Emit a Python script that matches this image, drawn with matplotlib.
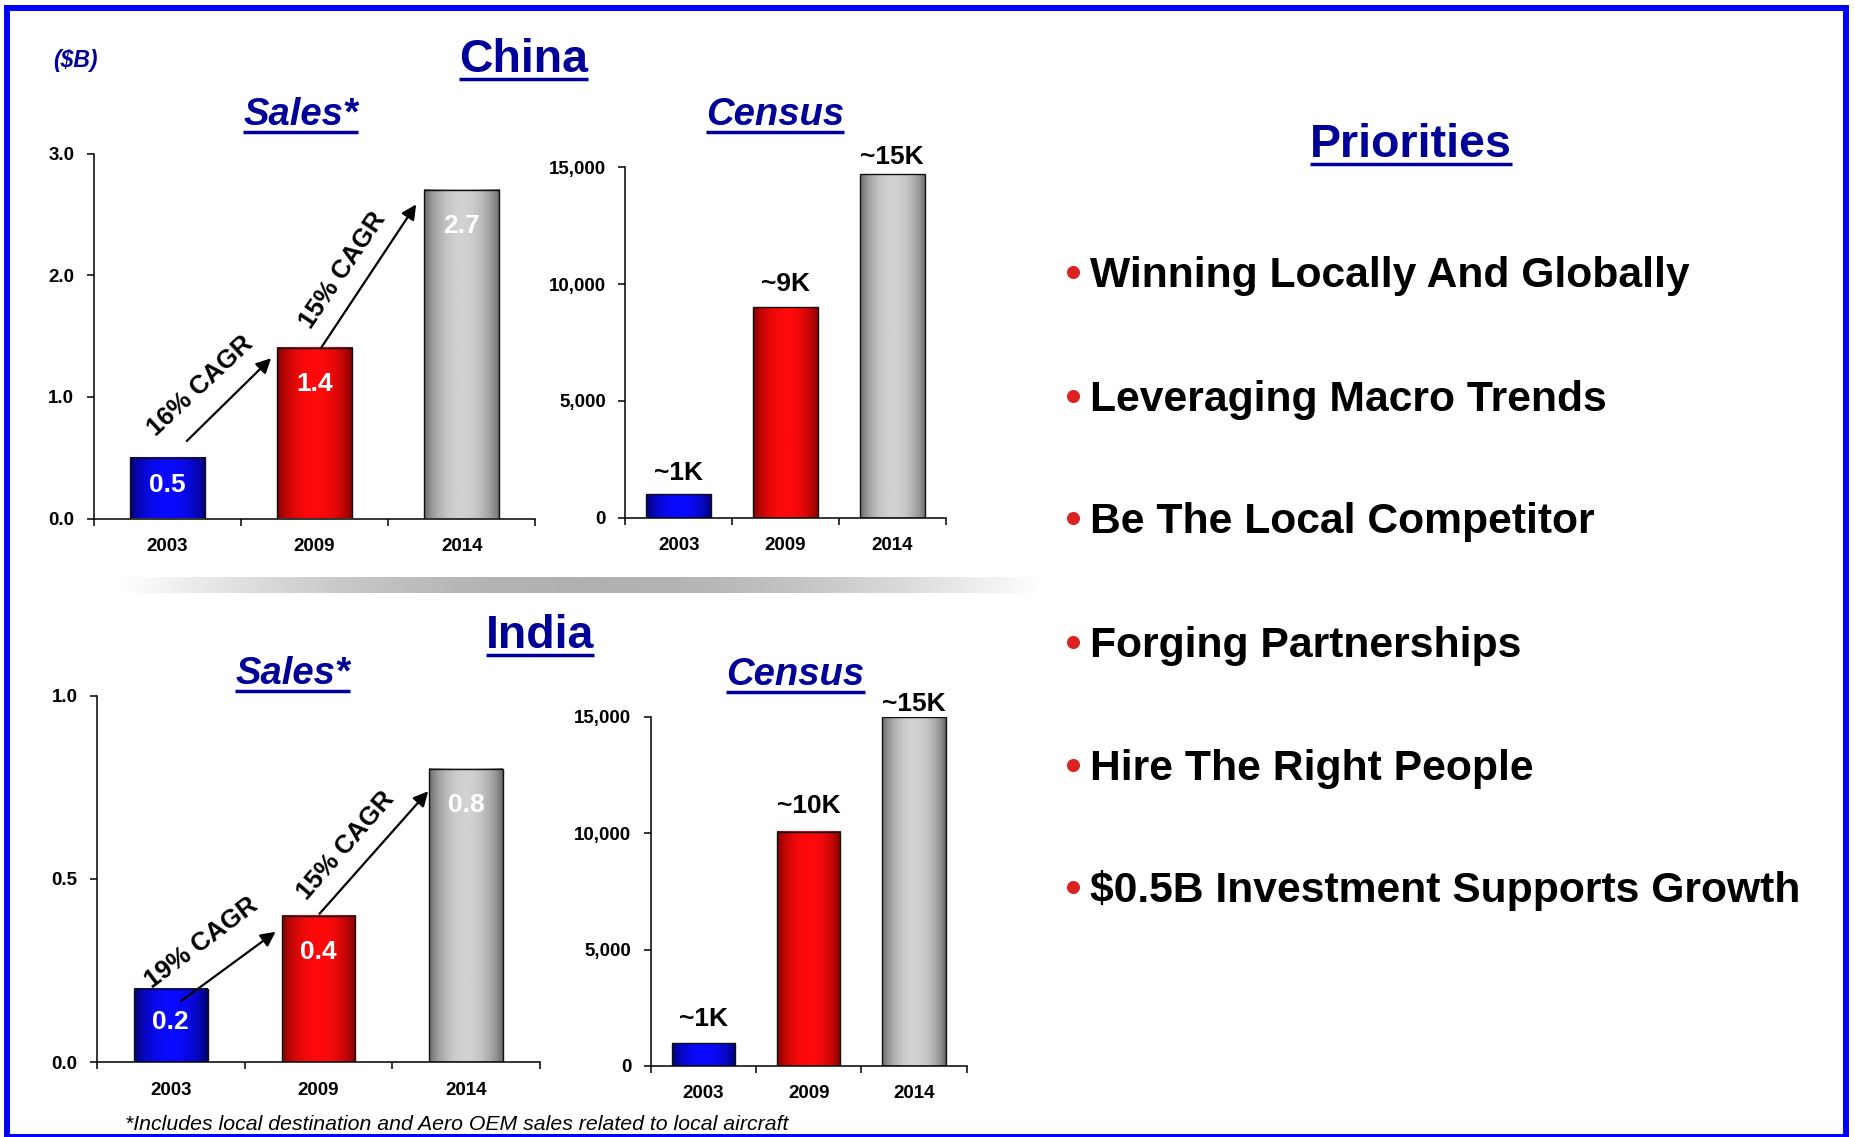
import numpy as np
import matplotlib
matplotlib.use("Agg")
import matplotlib.pyplot as plt
from matplotlib.lines import Line2D
from matplotlib.patches import Rectangle
from matplotlib.colors import LinearSegmentedColormap
from matplotlib.ticker import FuncFormatter

plt.rcParams["font.family"] = ["Liberation Sans", "DejaVu Sans"]

# ---------------------------------------------------------------- data
years = ["2003", "2009", "2014"]

china_sales = [0.5, 1.4, 2.7]            # $B
china_census = [1000, 9000, 14700]
china_census_labels = ["~1K", "~9K", "~15K"]
china_cagr = ["16% CAGR", "15% CAGR"]

india_sales = [0.2, 0.4, 0.8]            # $B
india_census = [970, 10050, 15000]
india_census_labels = ["~1K", "~10K", "~15K"]
india_cagr = ["19% CAGR", "15% CAGR"]

sales_ticks_china = [0.0, 1.0, 2.0, 3.0]
sales_ticks_india = [0.0, 0.5, 1.0]
census_ticks = [0, 5000, 10000, 15000]

priorities = [
    "Winning Locally And Globally",
    "Leveraging Macro Trends",
    "Be The Local Competitor",
    "Forging Partnerships",
    "Hire The Right People",
    "$0.5B Investment Supports Growth",
]
footnote = "*Includes local destination and Aero OEM sales related to local aircraft"

# ---------------------------------------------------------------- styling
W, H, DPI = 1856, 1137, 100
NAVY = "#000099"
BAR_SHADES = [("#00005e", "#0a0aff"),   # blue: edge, centre
              ("#6e0000", "#ff0a0a"),   # red
              ("#5a5a5a", "#d2d2d2")]   # grey
BAR_CMAPS = [LinearSegmentedColormap.from_list(f"c{i}", pair) for i, pair in enumerate(BAR_SHADES)]
PROFILE = np.sin(np.pi * np.linspace(0, 1, 256)) ** 0.6

fig = plt.figure(figsize=(W / DPI, H / DPI), dpi=DPI)
fig.patch.set_facecolor("white")


def fx(x):
    return x / W


def fy(y):
    return 1 - y / H


def add_axes_px(left, top, right, bottom):
    return fig.add_axes([left / W, 1 - bottom / H, (right - left) / W, (bottom - top) / H])


def bar_panel(ax, values, ymax, yticks, fmt, width):
    x = np.arange(len(values))
    bars = ax.bar(x, values, width=width, facecolor="none", edgecolor="#111111",
                  linewidth=1.0, zorder=3)
    for rect, cmap in zip(bars, BAR_CMAPS):
        x0, w, h = rect.get_x(), rect.get_width(), rect.get_height()
        ax.imshow(PROFILE[np.newaxis, :], cmap=cmap, vmin=0, vmax=1, aspect="auto",
                  extent=(x0, x0 + w, 0, h), interpolation="bilinear", zorder=2)
    ax.set_xlim(-0.5, len(values) - 0.5)
    ax.set_ylim(0, ymax)
    ax.set_yticks(yticks)
    ax.yaxis.set_major_formatter(FuncFormatter(fmt))
    ax.set_xticks(x)
    ax.set_xticklabels(years)
    ax.set_xticks(np.arange(len(values) + 1) - 0.5, minor=True)
    ax.tick_params(axis="x", which="major", length=0, pad=14)
    ax.tick_params(axis="x", which="minor", length=5, width=1.1, direction="out")
    ax.tick_params(axis="y", length=5, width=1.1, direction="out", pad=9)
    for lbl in ax.get_xticklabels() + ax.get_yticklabels():
        lbl.set_fontweight("bold")
        lbl.set_fontsize(13.5)
    for side in ("top", "right"):
        ax.spines[side].set_visible(False)
    for side in ("left", "bottom"):
        ax.spines[side].set_linewidth(1.1)
    return bars


def sales_labels(ax, bars, values, ax_height_px, ymax):
    for rect, v in zip(bars, values):
        h_px = v / ymax * ax_height_px
        off = min(36, h_px * 0.45) * 72 / DPI
        ax.annotate(f"{v:.1f}", xy=(rect.get_x() + rect.get_width() / 2, v),
                    xytext=(0, -off), textcoords="offset points", ha="center",
                    va="center", color="white", fontsize=19, fontweight="bold", zorder=5)


def census_labels(ax, bars, values, labels, gaps_px):
    for rect, v, s, gap in zip(bars, values, labels, gaps_px):
        ax.annotate(s, xy=(rect.get_x() + rect.get_width() / 2, v),
                    xytext=(0, gap * 72 / DPI), textcoords="offset points",
                    ha="center", va="baseline", fontsize=19, fontweight="bold",
                    color="black", zorder=5, annotation_clip=False)


def cagr(ax, text, tail, head, pos, angle):
    ax.annotate("", xy=head, xytext=tail,
                arrowprops=dict(arrowstyle="-|>", color="black", lw=1.6,
                                mutation_scale=22, shrinkA=0, shrinkB=0),
                annotation_clip=False, zorder=6)
    ax.text(pos[0], pos[1], text, rotation=angle, rotation_mode="anchor",
            ha="center", va="center", fontsize=18.5, fontweight="bold", zorder=6)


fmt_sales = lambda v, _: f"{v:.1f}"
fmt_census = lambda v, _: f"{v:,.0f}"

# ---------------------------------------------------------------- China
ax_cs = add_axes_px(93.7, 153.7, 535.4, 518.5)
b = bar_panel(ax_cs, china_sales, 3.0, sales_ticks_china, fmt_sales, 0.51)
sales_labels(ax_cs, b, china_sales, 518.5 - 153.7, 3.0)
cagr(ax_cs, china_cagr[0], (0.132, 0.637), (0.705, 1.318), (0.226, 1.09), 43)
cagr(ax_cs, china_cagr[1], (1.044, 1.402), (1.69, 2.583), (1.192, 2.04), 56)

ax_cc = add_axes_px(625.3, 167.3, 945.7, 517.7)
b = bar_panel(ax_cc, china_census, 15000, census_ticks, fmt_census, 0.61)
census_labels(ax_cc, b, china_census, china_census_labels, [14, 16, 10])

# ---------------------------------------------------------------- India
ax_is = add_axes_px(96.9, 695.5, 540.0, 1062.4)
b = bar_panel(ax_is, india_sales, 1.0, sales_ticks_india, fmt_sales, 0.5)
sales_labels(ax_is, b, india_sales, 1062.4 - 695.5, 1.0)
cagr(ax_is, india_cagr[0], (0.070, 0.167), (0.710, 0.356), (0.21, 0.325), 37)
cagr(ax_is, india_cagr[1], (1.007, 0.405), (1.743, 0.739), (1.186, 0.591), 49)

ax_ic = add_axes_px(650.7, 716.7, 966.7, 1066.0)
b = bar_panel(ax_ic, india_census, 15000, census_ticks, fmt_census, 0.6)
census_labels(ax_ic, b, india_census, india_census_labels, [17, 19, 6])

# ---------------------------------------------------------------- separator strip
ax_sep = add_axes_px(118, 577, 1046, 593)
ax_sep.imshow((1 - 0.31 * np.sin(np.pi * np.linspace(0, 1, 512)))[np.newaxis, :],
              cmap="gray", vmin=0, vmax=1, aspect="auto", interpolation="bilinear")
ax_sep.axis("off")

# ---------------------------------------------------------------- headings
underlined = []


def heading(xc, baseline, text, size, italic=False):
    t = fig.text(fx(xc), fy(baseline), text, ha="center", va="baseline", fontsize=size,
                 fontweight="bold", fontstyle="italic" if italic else "normal", color=NAVY)
    underlined.append((t, baseline + 7))
    return t


heading(524, 72.2, "China", 33.5)
heading(300.6, 125.2, "Sales*", 27.5, italic=True)
heading(775, 125.0, "Census", 27.5, italic=True)
heading(540, 647.5, "India", 33.5)
heading(292.6, 684.0, "Sales*", 27.5, italic=True)
heading(795.5, 685.0, "Census", 27.5, italic=True)
heading(1411, 156.7, "Priorities", 33.5)

fig.text(fx(75), fy(60.5), "($B)", ha="center", va="center", fontsize=16.5,
         fontweight="bold", fontstyle="italic", color=NAVY)

# ---------------------------------------------------------------- priorities list
baselines = [287, 410.5, 533.3, 656.7, 780, 902]
for s, yb in zip(priorities, baselines):
    fig.text(fx(1090), fy(yb), s, ha="left", va="baseline", fontsize=30.7,
             fontweight="bold", color="black")
    fig.add_artist(Line2D([fx(1073)], [fy(yb - 15)], marker="o", markersize=9.4,
                          color="#dd2222", markeredgecolor="none",
                          transform=fig.transFigure))

fig.text(fx(125), fy(1130), footnote, ha="left", va="baseline", fontsize=15.3,
         fontstyle="italic", color="black")

# ---------------------------------------------------------------- frame
fig.add_artist(Rectangle((fx(7), fy(1137)), fx(1846.5) - fx(7), fy(7.5) - fy(1137),
                         transform=fig.transFigure, fill=False, edgecolor="#0000ff",
                         linewidth=4.3))

# underline headings using their rendered extents
fig.canvas.draw()
renderer = fig.canvas.get_renderer()
for t, uy in underlined:
    bb = t.get_window_extent(renderer)
    fig.add_artist(Line2D([bb.x0 / W, bb.x1 / W], [fy(uy), fy(uy)], color=NAVY,
                          linewidth=2.5, solid_capstyle="butt", transform=fig.transFigure))

fig.savefig("out.png", dpi=DPI, facecolor="white")
